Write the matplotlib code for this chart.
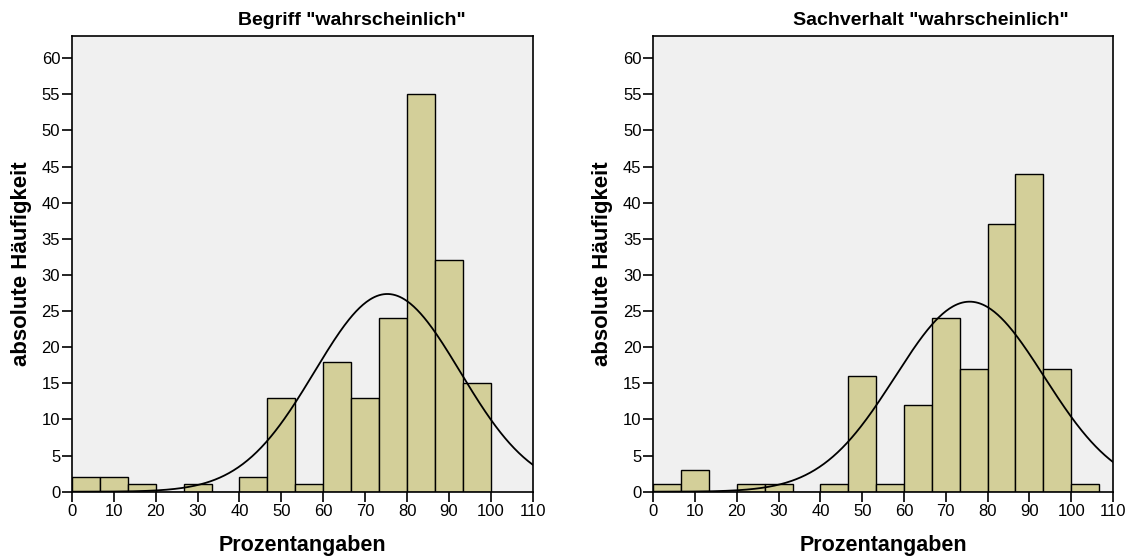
import numpy as np
import matplotlib
matplotlib.use("Agg")
import matplotlib.pyplot as plt

plt.rcParams['font.family'] = ['Liberation Sans', 'DejaVu Sans']

# Klassenbreite der Histogramme (15 Klassen von 0 bis 100)
bin_width = 100 / 15

titles = ['Begriff "wahrscheinlich"', 'Sachverhalt "wahrscheinlich"']

# absolute Häufigkeiten pro Klasse
counts_begriff = [2, 2, 1, 0, 1, 0, 2, 13, 1, 18, 13, 24, 55, 32, 15]
counts_sachverhalt = [1, 3, 0, 1, 1, 0, 1, 16, 1, 12, 24, 17, 37, 44, 17, 1]

# Parameter der Normalverteilungskurve (Mittelwert, Standardabweichung)
mean_begriff, sd_begriff = 75.3, 17.4
mean_sachverhalt, sd_sachverhalt = 75.7, 17.8

x_ticks = list(range(0, 111, 10))
y_ticks = list(range(0, 61, 5))

bar_color = '#d3cf99'
bg_color = '#f0f0f0'

fig = plt.figure(figsize=(11.28, 5.58), dpi=100)
ax1 = fig.add_axes([0.0638, 0.1188, 0.4084, 0.8172])
ax2 = fig.add_axes([0.5792, 0.1188, 0.4075, 0.8172])

panels = [
    (ax1, counts_begriff, mean_begriff, sd_begriff, titles[0], 0.312),
    (ax2, counts_sachverhalt, mean_sachverhalt, sd_sachverhalt, titles[1], 0.825),
]

for ax, counts, mu, sd, title, tx in panels:
    lefts = np.arange(len(counts)) * bin_width
    ax.set_facecolor(bg_color)
    ax.bar(lefts, counts, width=bin_width, align='edge', color=bar_color,
           edgecolor='black', linewidth=1.0, zorder=2)

    # Normalverteilungskurve skaliert auf die Häufigkeiten
    n = sum(counts)
    xs = np.linspace(0, 110, 400)
    ys = n * bin_width / (sd * np.sqrt(2 * np.pi)) * np.exp(-0.5 * ((xs - mu) / sd) ** 2)
    ax.plot(xs, ys, color='black', linewidth=1.3, zorder=3)

    ax.set_xlim(0, 110)
    ax.set_ylim(0, 63.1)
    ax.set_xticks(x_ticks)
    ax.set_yticks(y_ticks)
    ax.tick_params(axis='both', labelsize=12, direction='out', length=7, width=1.2, pad=1.5)
    for s in ax.spines.values():
        s.set_linewidth(1.2)

    ax.set_xlabel('Prozentangaben', fontsize=15.5, fontweight='bold', labelpad=12)
    ax.set_ylabel('absolute Häufigkeit', fontsize=16, fontweight='bold', labelpad=7)
    fig.text(tx, 0.963, title, ha='center', va='center', fontsize=14, fontweight='bold')

fig.savefig('out.png', dpi=100)
